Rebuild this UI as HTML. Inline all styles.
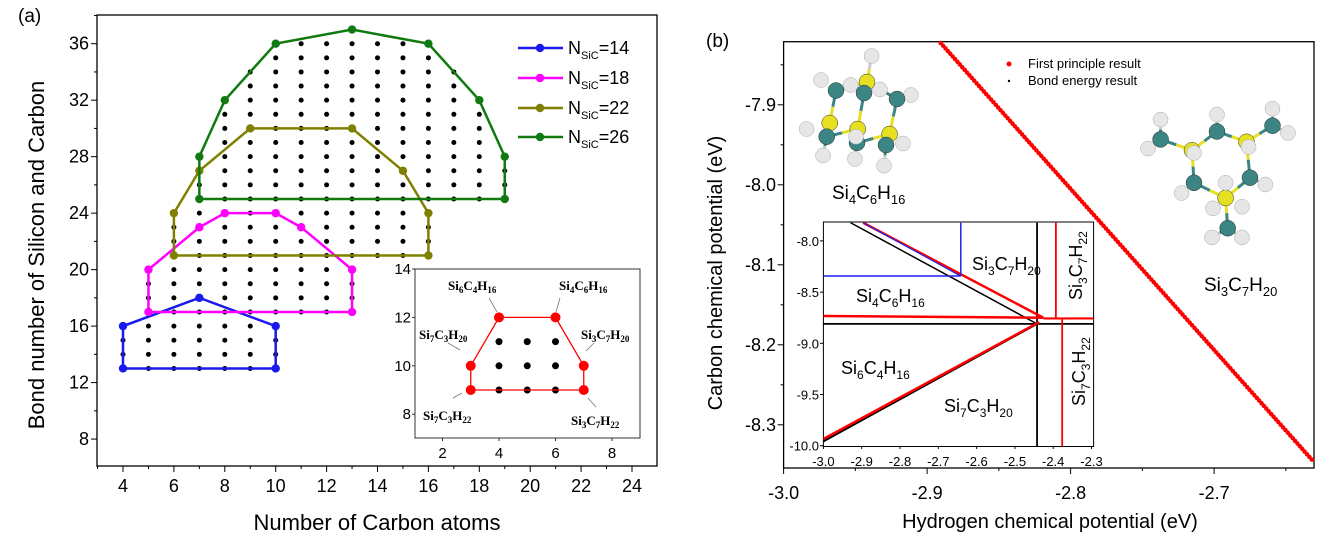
<!DOCTYPE html>
<html><head><meta charset="utf-8"><style>
html,body{margin:0;padding:0;background:#fff;}
svg{display:block;font-family:"Liberation Sans",Arial,sans-serif;}
.ser{font-family:"Liberation Serif",serif;font-weight:bold;}
</style></head><body>
<svg id="s" width="1317" height="533" viewBox="0 0 1317 533" xmlns="http://www.w3.org/2000/svg">
<rect width="1317" height="533" fill="#fff"/>
<g id="g"></g>
<text x="18" y="22" font-size="19">(a)</text>
<text transform="translate(44,255) rotate(-90)" text-anchor="middle" font-size="22">Bond number of Silicon and Carbon</text>
<text x="377" y="530" text-anchor="middle" font-size="22">Number of Carbon atoms</text>
<g font-size="18">
<text x="568" y="54">N<tspan font-size="11" dy="5">SiC</tspan><tspan dy="-5">=14</tspan></text>
<text x="568" y="84">N<tspan font-size="11" dy="5">SiC</tspan><tspan dy="-5">=18</tspan></text>
<text x="568" y="114">N<tspan font-size="11" dy="5">SiC</tspan><tspan dy="-5">=22</tspan></text>
<text x="568" y="143">N<tspan font-size="11" dy="5">SiC</tspan><tspan dy="-5">=26</tspan></text>
</g>
<g class="ser" font-size="13">
<text x="448" y="290">Si<tspan font-size="9" dy="3">6</tspan><tspan dy="-3">C</tspan><tspan font-size="9" dy="3">4</tspan><tspan dy="-3">H</tspan><tspan font-size="9" dy="3">16</tspan></text>
<text x="559" y="290">Si<tspan font-size="9" dy="3">4</tspan><tspan dy="-3">C</tspan><tspan font-size="9" dy="3">6</tspan><tspan dy="-3">H</tspan><tspan font-size="9" dy="3">16</tspan></text>
<text x="419" y="339">Si<tspan font-size="9" dy="3">7</tspan><tspan dy="-3">C</tspan><tspan font-size="9" dy="3">3</tspan><tspan dy="-3">H</tspan><tspan font-size="9" dy="3">20</tspan></text>
<text x="581" y="339">Si<tspan font-size="9" dy="3">3</tspan><tspan dy="-3">C</tspan><tspan font-size="9" dy="3">7</tspan><tspan dy="-3">H</tspan><tspan font-size="9" dy="3">20</tspan></text>
<text x="423" y="420">Si<tspan font-size="9" dy="3">7</tspan><tspan dy="-3">C</tspan><tspan font-size="9" dy="3">3</tspan><tspan dy="-3">H</tspan><tspan font-size="9" dy="3">22</tspan></text>
<text x="571" y="425">Si<tspan font-size="9" dy="3">3</tspan><tspan dy="-3">C</tspan><tspan font-size="9" dy="3">7</tspan><tspan dy="-3">H</tspan><tspan font-size="9" dy="3">22</tspan></text>
</g>
<text x="706" y="47" font-size="19">(b)</text>
<text transform="translate(722,273) rotate(-90)" text-anchor="middle" font-size="20">Carbon chemical potential (eV)</text>
<text x="1050" y="528" text-anchor="middle" font-size="20">Hydrogen chemical potential (eV)</text>
<circle cx="1009" cy="64" r="2.5" fill="#f00"/><circle cx="1009" cy="81" r="1.2" fill="#000"/>
<text x="1028" y="68" font-size="13">First principle result</text>
<text x="1028" y="85" font-size="13">Bond energy result</text>
<text x="832" y="199" font-size="19">Si<tspan font-size="13" dy="5">4</tspan><tspan dy="-5">C</tspan><tspan font-size="13" dy="5">6</tspan><tspan dy="-5">H</tspan><tspan font-size="13" dy="5">16</tspan></text>
<text x="1204" y="291" font-size="19">Si<tspan font-size="13" dy="5">3</tspan><tspan dy="-5">C</tspan><tspan font-size="13" dy="5">7</tspan><tspan dy="-5">H</tspan><tspan font-size="13" dy="5">20</tspan></text>
<g font-size="18">
<text x="972" y="270">Si<tspan font-size="12" dy="5">3</tspan><tspan dy="-5">C</tspan><tspan font-size="12" dy="5">7</tspan><tspan dy="-5">H</tspan><tspan font-size="12" dy="5">20</tspan></text>
<text x="856" y="302">Si<tspan font-size="12" dy="5">4</tspan><tspan dy="-5">C</tspan><tspan font-size="12" dy="5">6</tspan><tspan dy="-5">H</tspan><tspan font-size="12" dy="5">16</tspan></text>
<text x="841" y="374">Si<tspan font-size="12" dy="5">6</tspan><tspan dy="-5">C</tspan><tspan font-size="12" dy="5">4</tspan><tspan dy="-5">H</tspan><tspan font-size="12" dy="5">16</tspan></text>
<text x="944" y="412">Si<tspan font-size="12" dy="5">7</tspan><tspan dy="-5">C</tspan><tspan font-size="12" dy="5">3</tspan><tspan dy="-5">H</tspan><tspan font-size="12" dy="5">20</tspan></text>
<text transform="translate(1082,300) rotate(-90)">Si<tspan font-size="12" dy="5">3</tspan><tspan dy="-5">C</tspan><tspan font-size="12" dy="5">7</tspan><tspan dy="-5">H</tspan><tspan font-size="12" dy="5">22</tspan></text>
<text transform="translate(1085,406) rotate(-90)">Si<tspan font-size="12" dy="5">7</tspan><tspan dy="-5">C</tspan><tspan font-size="12" dy="5">3</tspan><tspan dy="-5">H</tspan><tspan font-size="12" dy="5">22</tspan></text>
</g>
</svg>
<script>
const NS="http://www.w3.org/2000/svg",G=document.getElementById('g');
function el(t,a,txt){const e=document.createElementNS(NS,t);for(const k in a)e.setAttribute(k,a[k]);if(txt!==undefined)e.textContent=txt;G.appendChild(e);return e;}
function line(x1,y1,x2,y2,c,w,ex){el('line',Object.assign({x1,y1,x2,y2,stroke:c,'stroke-width':w},ex||{}));}
const AX=x=>123+(x-4)*25.45, AY=y=>43.7+(36-y)*14.12;
el('rect',{x:97,y:15,width:560,height:451,fill:'none',stroke:'#000','stroke-width':1.3});
for(let x=3;x<=24;x++){const maj=x%2==0;line(AX(x),466,AX(x),466+(maj?6:3),'#000',1);
 if(maj)el('text',{x:AX(x),y:492,'text-anchor':'middle','font-size':18},x);}
for(let y=7;y<=38;y++){if(y%2)continue;const maj=y%4==0;line(97,AY(y),97-(maj?6:3),AY(y),'#000',1);
 if(maj)el('text',{x:89,y:AY(y)+6,'text-anchor':'end','font-size':18},y);}
const polys=[
 ['#1a1aee',[[4,13],[4,16],[7,18],[10,16],[10,13]]],
 ['#ff00ff',[[5,17],[5,20],[7,23],[8,24],[10,24],[11,23],[13,20],[13,17]]],
 ['#808000',[[6,21],[6,24],[7,27],[9,30],[13,30],[15,27],[16,24],[16,21]]],
 ['#107a10',[[7,25],[7,28],[8,32],[10,36],[13,37],[16,36],[18,32],[19,28],[19,25]]]];
function inside(p,x,y){let c=false;for(let i=0,j=p.length-1;i<p.length;j=i++){const[xi,yi]=p[i],[xj,yj]=p[j];
 const cr=(xj-xi)*(y-yi)-(yj-yi)*(x-xi);if(Math.abs(cr)<1e-9&&x>=Math.min(xi,xj)&&x<=Math.max(xi,xj)&&y>=Math.min(yi,yj)&&y<=Math.max(yi,yj))return true;
 if((yi>y)!=(yj>y)&&x<(xj-xi)*(y-yi)/(yj-yi)+xi)c=!c;}return c;}
for(let x=4;x<=19;x++)for(let y=13;y<=37;y++){if(polys.some(p=>inside(p[1],x,y)))el('circle',{cx:AX(x),cy:AY(y),r:2.5,fill:'#000'});}
polys.forEach(([c,p])=>{const pts=p.concat([p[0]]).map(q=>AX(q[0])+','+AY(q[1])).join(' ');
 el('polyline',{points:pts,fill:'none',stroke:c,'stroke-width':2.5});p.forEach(q=>el('circle',{cx:AX(q[0]),cy:AY(q[1]),r:4.2,fill:c}));});
[48,78,108,137].forEach((y,i)=>{const c=polys[i][0];line(518,y,563,y,c,2.5);el('circle',{cx:540,cy:y,r:4.2,fill:c});});
const IX=x=>442.5+(x-2)*28.25, IY=y=>269+(14-y)*24.2;
el('rect',{x:415,y:269,width:225,height:169,fill:'#fff',stroke:'#333','stroke-width':1});
[2,4,6,8].forEach(x=>{line(IX(x),438,IX(x),441,'#333',1);el('text',{x:IX(x),y:458,'text-anchor':'middle','font-size':15},x);});
[8,10,12,14].forEach(y=>{line(415,IY(y),412,IY(y),'#333',1);el('text',{x:411,y:IY(y)+5,'text-anchor':'end','font-size':15},y);});
for(let x=4;x<=6;x++)for(let y=9;y<=11;y++)el('circle',{cx:IX(x),cy:IY(y),r:3.5,fill:'#000'});
const ip=[[3,9],[3,10],[4,12],[6,12],[7,10],[7,9]];
el('polyline',{points:ip.concat([ip[0]]).map(q=>IX(q[0])+','+IY(q[1])).join(' '),fill:'none',stroke:'#f00','stroke-width':1.3});
ip.forEach(q=>el('circle',{cx:IX(q[0]),cy:IY(q[1]),r:5,fill:'#f00'}));
[[489,298,497,312],[560,298,556,312],[448,343,460,350],[594,343,586,351],[453,398,462,393],[596,407,588,398]].forEach(a=>line(...a,'#777',0.8));
const BX=h=>783.6+(h+3)*1435, BY=c=>184.8+(-8.0-c)*800;
el('rect',{x:783.6,y:41.7,width:530.4,height:426.3,fill:'none',stroke:'#000','stroke-width':1.3});
[-3.0,-2.9,-2.8,-2.7].forEach(h=>{el('text',{x:BX(h),y:499,'text-anchor':'middle','font-size':18},h.toFixed(1));});
for(let i=0;i<8;i++){const h=-3+i*0.05;const maj=i%2==0;line(BX(h),468,BX(h),468+(maj?6:3),'#000',1);}
for(let i=0;i<10;i++){const c=-7.85-i*0.05;const maj=(i%2==1);line(783.6,BY(c),783.6-(maj?6:3),BY(c),'#000',1);
 if(maj)el('text',{x:776,y:BY(c)+6,'text-anchor':'end','font-size':18},c.toFixed(1));}
line(940.7,43,1313,461,'#f00',4.5,{'stroke-dasharray':'0 3.6','stroke-linecap':'round'});
function mol(at,bonds){const col={C:'#3b8585',S:'#e6e020',H:'#e6e6e6'};
 bonds.forEach(([a,b])=>{const A=at[a],B=at[b];const mx=(A[1]+B[1])/2,my=(A[2]+B[2])/2;
  line(A[1],A[2],mx,my,A[0]=='H'?'#ccc':col[A[0]],3);line(mx,my,B[1],B[2],B[0]=='H'?'#ccc':col[B[0]],3);});
 at.forEach(a=>el('circle',{cx:a[1],cy:a[2],r:a[0]=='H'?7.5:8,fill:col[a[0]],stroke:a[0]=='H'?'#aaa':'#333','stroke-width':0.5}));}
mol([['H',821,80],['H',850.6,85],['H',880,89.5],['H',911,95],['H',871.6,56],['S',867,82],['C',836,90.5],['C',864,93],['C',897,99],
 ['H',806.6,129],['S',829.7,123],['S',857.7,129],['S',889.6,134],['C',826.7,136.7],['C',857,142.8],['C',886,145],['H',903,143.5],['H',856,136.7],['H',823,155.5],['H',855,159],['H',884,165.7]],
 [[4,5],[5,6],[5,7],[5,8],[6,10],[7,11],[8,12],[10,13],[11,13],[11,14],[12,14],[12,15],[13,18],[14,19],[15,20]]);
mol([['H',1160.6,119.6],['H',1148,148.6],['C',1160.6,139.4],['S',1192,150.3],['H',1217,114.5],['C',1217,131.5],['S',1246.5,141.8],['H',1272.5,108.6],['H',1288,133],['C',1272.5,125.7],
 ['H',1181.6,193],['C',1194,182.8],['H',1265.4,184.5],['C',1250,177.7],['H',1213,208.4],['H',1242,206.7],['S',1225.6,198],['H',1225.6,182.8],['H',1212,237.4],['H',1242,237.4],['C',1227.7,228.2],['H',1194,153],['H',1248.6,147]],
 [[2,3],[3,5],[5,6],[6,9],[3,11],[6,13],[11,16],[13,16],[16,20],[0,2],[1,2],[4,5],[7,9],[8,9],[10,11],[12,13],[18,20],[19,20]]);
const ZX=z=>660+z/2.387, ZY=z=>z/2.927;
el('rect',{x:823.4,y:222,width:270.2,height:224.5,fill:'#fff',stroke:'#000','stroke-width':1});
const bx=h=>823.4+(h+3)*383, by=v=>240.9+(-8-v)*102.4;
for(let i=0;i<=7;i++){const h=-3+i*0.1;line(bx(h),446.5,bx(h),449,'#000',1);el('text',{x:bx(h),y:466,'text-anchor':'middle','font-size':13},h.toFixed(1));}
for(let i=0;i<=4;i++){const v=-8-i*0.5;line(823.4,by(v),820,by(v),'#000',1);el('text',{x:819,y:by(v)+5,'text-anchor':'end','font-size':13},v.toFixed(1));}
function zl(a,b,c,d,col,w){line(ZX(a),ZY(b),ZX(c),ZY(d),col,w);}
zl(455,652,900,948,'#000',1.5);
zl(390,948,1035,948,'#000',1.8);
zl(900,652,900,1307,'#000',1.8);
zl(390,1292,900,948,'#000',2);
zl(485,652,915,930,'#f00',2.5);
zl(390,925,915,930,'#f00',2.5);zl(915,932,1035,932,'#f00',2.2);
zl(945,652,945,932,'#f00',1.8);
zl(960,932,960,1307,'#f00',1.8);
zl(390,1285,905,943,'#f00',2.5);
zl(485,652,718,808,'#2020ee',1.2);
zl(718,652,718,808,'#2020ee',1.5);
zl(390,808,718,808,'#2020ee',1.5);
const s=document.getElementById('s');const texts=[...s.querySelectorAll(':scope > text, :scope > g[font-size="18"], :scope > g.ser, :scope > circle')];
texts.forEach(t=>s.appendChild(t));
</script>
</body></html>
